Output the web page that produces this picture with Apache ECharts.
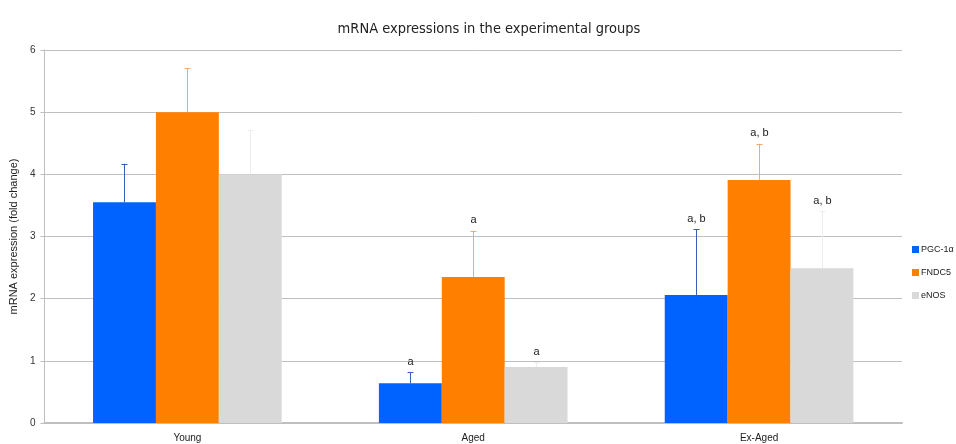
<!DOCTYPE html>
<html>
<head>
<meta charset="utf-8">
<script src="https://cdn.jsdelivr.net/npm/echarts@6/dist/echarts.min.js"></script>
<style>
  html, body { margin: 0; padding: 0; background: #fff; }
  #chart { width: 956px; height: 444px; }
</style>
</head>
<body>
<div id="chart"></div>
<script>
// Experimental groups on the x axis
const categories = ['Young', 'Aged', 'Ex-Aged'];
const seriesNames = ['PGC-1α', 'FNDC5', 'eNOS'];

// Mean fold change per group
const pgc1a = [3.55, 0.64, 2.06];
const fndc5 = [5.00, 2.35, 3.91];
const enos  = [4.00, 0.90, 2.49];

// Upper end of the error bar (mean + SD)
const pgc1aUpper = [4.17, 0.82, 3.12];
const fndc5Upper = [5.71, 3.09, 4.49];
const enosUpper  = [4.71, 0.98, 3.41];

// Significance marks drawn above the error bars
const pgc1aSig = ['', 'a', 'a, b'];
const fndc5Sig = ['', 'a', 'a, b'];
const enosSig  = ['', 'a', 'a, b'];

const yTicks = [0, 1, 2, 3, 4, 5, 6];

const barColors = ['#0062FF', '#FF8000', '#D9D9D9'];
const errColors = ['#3A5DB5', '#FFA866', '#EDEDED'];
const CATEGORY_GAP = 0.34;

const means = [pgc1a, fndc5, enos];
const uppers = [pgc1aUpper, fndc5Upper, enosUpper];
const sigs = [pgc1aSig, fndc5Sig, enosSig];

const chart = echarts.init(document.getElementById('chart'));

function errorSeries(idx) {
  const data = categories.map((c, i) => [i, means[idx][i], uppers[idx][i], sigs[idx][i]]);
  return {
    type: 'custom',
    name: seriesNames[idx] + ' SD',
    z: 5,
    silent: true,
    data: data,
    renderItem: function (params, api) {
      const ci = api.value(0);
      const base = api.coord([ci, api.value(1)]);
      const top = api.coord([ci, api.value(2)]);
      const band = api.size([1, 0])[0];
      const barW = band * (1 - CATEGORY_GAP) / 3;
      const x = Math.round(base[0] + (idx - 1) * barW) + 0.5;
      const capHalf = 3;
      const label = data[params.dataIndex][3];
      const children = [
        { type: 'line', shape: { x1: x, y1: base[1], x2: x, y2: top[1] },
          style: { stroke: errColors[idx], lineWidth: 1 } },
        { type: 'line', shape: { x1: x - capHalf, y1: Math.round(top[1]) + 0.5, x2: x + capHalf, y2: Math.round(top[1]) + 0.5 },
          style: { stroke: errColors[idx], lineWidth: 1 } }
      ];
      if (label) {
        children.push({
          type: 'text',
          style: {
            x: x, y: top[1] - 5, text: label,
            textAlign: 'center', textVerticalAlign: 'bottom',
            fill: '#222', font: '11px "Liberation Sans", "DejaVu Sans", sans-serif'
          }
        });
      }
      return { type: 'group', children: children };
    }
  };
}

const barSeries = seriesNames.map((name, idx) => ({
  type: 'bar',
  name: name,
  data: means[idx],
  barGap: '0%',
  barCategoryGap: (CATEGORY_GAP * 100) + '%',
  itemStyle: { color: barColors[idx] },
  emphasis: { disabled: true }
}));

chart.setOption({
  animation: false,
  backgroundColor: '#ffffff',
  title: {
    text: 'mRNA expressions in the experimental groups',
    left: 484, top: 17,
    textAlign: 'center',
    textStyle: { fontSize: 14.5, fontWeight: 'normal', color: '#222',
      fontFamily: '"Liberation Sans Narrow", "DejaVu Sans Condensed", "Liberation Sans", sans-serif' }
  },
  legend: {
    data: seriesNames,
    orient: 'vertical',
    left: 907, top: 240,
    itemWidth: 7, itemHeight: 7, itemGap: 14,
    icon: 'rect',
    textStyle: { fontSize: 9, color: '#222', fontFamily: '"Liberation Sans", sans-serif', padding: [0, 0, 0, -3] }
  },
  grid: { left: 43, right: 54, top: 50, bottom: 21 },
  xAxis: {
    type: 'category',
    data: categories,
    axisTick: { show: false },
    axisLine: { lineStyle: { color: '#BFBFBF', width: 2 } },
    axisLabel: { fontSize: 10, color: '#222', margin: 10, fontFamily: '"Liberation Sans", sans-serif' }
  },
  yAxis: {
    type: 'value',
    min: yTicks[0], max: yTicks[yTicks.length - 1], interval: 1,
    name: 'mRNA expression (fold change)',
    nameLocation: 'middle', nameGap: 24,
    nameTextStyle: { fontSize: 11, color: '#222', fontFamily: '"Liberation Sans", sans-serif' },
    axisLine: { show: true, lineStyle: { color: '#BFBFBF' } },
    axisTick: { show: true, length: 4, lineStyle: { color: '#BFBFBF' } },
    axisLabel: { fontSize: 10, color: '#333', margin: 9, fontFamily: '"Liberation Sans", sans-serif' },
    splitLine: { lineStyle: { color: '#BFBFBF', width: 1 } }
  },
  series: barSeries.concat([0, 1, 2].map(errorSeries))
});
</script>
</body>
</html>
